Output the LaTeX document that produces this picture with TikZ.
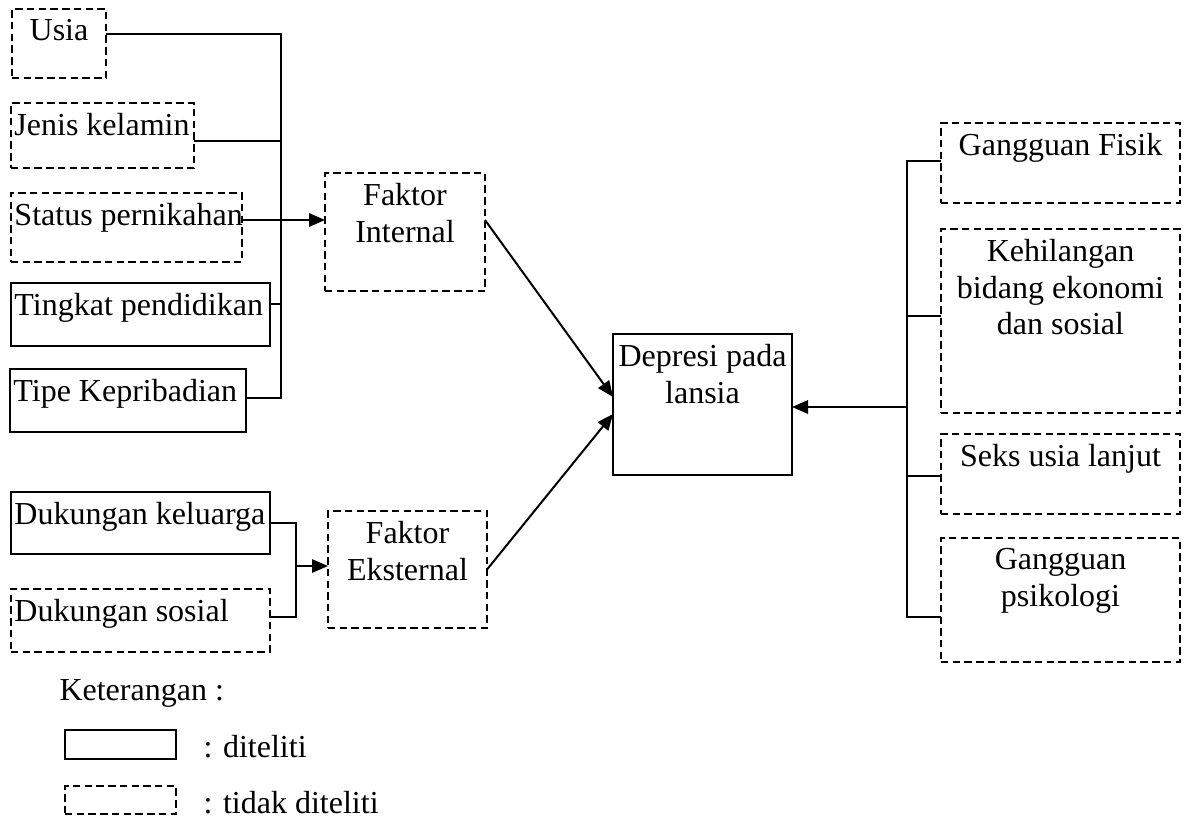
\documentclass[tikz,border=0pt]{standalone}
\usepackage{fontspec}
\setmainfont{Liberation Serif}
\usetikzlibrary{arrows.meta}

\begin{document}
\begin{tikzpicture}[
    x=0.375pt, y=-0.375pt,
    box/.style={draw, line width=0.75pt, inner sep=0pt, outer sep=0pt},
    dbox/.style={box, dash pattern=on 2.8pt off 1.6pt},
    txt/.style={anchor=north, inner sep=0pt, yshift=-3.8pt, align=center, font=\fontsize{12}{13.7}\selectfont},
    txtl/.style={txt, anchor=north west, xshift=1.1pt, align=left},
    plain/.style={inner sep=0pt, anchor=base west, font=\fontsize{12}{13.7}\selectfont},
    ln/.style={line width=0.75pt},
    arr/.style={-{Triangle[length=6pt,width=5pt]}, line width=0.75pt}
    ]
    \useasboundingbox (0,0) rectangle (1187,816);

    % faktor internal
    \node[dbox, minimum width=35.25pt, minimum height=25.875pt, label={[txt]north:Usia}] (usia) at (59,43.5) {};
    \node[dbox, minimum width=68.625pt, minimum height=24.375pt, label={[txtl]north west:Jenis kelamin}] (jenis) at (102.5,135.5) {};
    \node[dbox, minimum width=86.625pt, minimum height=25.875pt, label={[txtl]north west:Status pernikahan}] (status) at (126.5,227.5) {};
    \node[box, minimum width=97.125pt, minimum height=23.625pt, label={[txtl]north west:Tingkat pendidikan}] (tingkat) at (140.5,314.5) {};
    \node[box, minimum width=88.5pt, minimum height=23.625pt, label={[txtl]north west:Tipe Kepribadian}] (tipe) at (128,400.5) {};
    \node[dbox, minimum width=60pt, minimum height=44.25pt, label={[txt]north:Faktor\\Internal}] (internal) at (405,232) {};

    % faktor eksternal
    \node[box, minimum width=97.125pt, minimum height=23.25pt, label={[txtl]north west:Dukungan keluarga}] (keluarga) at (140.5,523) {};
    \node[dbox, minimum width=97.125pt, minimum height=23.625pt, label={[txtl]north west:Dukungan sosial}] (sosial) at (140.5,620.5) {};
    \node[dbox, minimum width=59.625pt, minimum height=43.875pt, label={[txt]north:Faktor\\Eksternal}] (eksternal) at (407.5,569.5) {};

    \node[box, minimum width=67.125pt, minimum height=52.875pt, label={[txt]north:Depresi pada\\lansia}] (depresi) at (702.5,404.5) {};

    % dampak
    \node[dbox, minimum width=89.625pt, minimum height=30pt, label={[txt]north:Gangguan Fisik}] (fisik) at (1060.5,163) {};
    \node[dbox, minimum width=89.625pt, minimum height=69pt, label={[txt]north:Kehilangan\\bidang ekonomi\\dan sosial}] (kehilangan) at (1060.5,321) {};
    \node[dbox, minimum width=89.625pt, minimum height=30pt, label={[txt]north:Seks usia lanjut}] (seks) at (1060.5,474) {};
    \node[dbox, minimum width=89.625pt, minimum height=46.5pt, label={[txt]north:Gangguan\\psikologi}] (psikologi) at (1060.5,600) {};

    % keterangan
    \node[plain] (ket) at (59,700) {Keterangan :};
    \node[box, minimum width=41.625pt, minimum height=10.875pt] (legsolid) at (120.5,744.5) {};
    \node[plain] (legsolidtxt) at (203,757) {: diteliti};
    \node[dbox, minimum width=41.625pt, minimum height=10.5pt] (legdash) at (120.5,800) {};
    \node[plain] (legdashtxt) at (203,813) {: tidak diteliti};

    \coordinate (busItop) at (281,34);
    \coordinate (busIbot) at (281,398);
    \coordinate (busE) at (296,566);
    \coordinate (busDtop) at (907,161);
    \coordinate (busDbot) at (907,617);

    \draw[ln] (usia.east |- busItop) -- (busItop) -- (busIbot) -- (tipe.east |- busIbot);
    \draw[ln] (jenis.east |- 0,141) -- (busItop |- 0,141);
    \draw[ln] (tingkat.east |- 0,304) -- (busItop |- 0,304);
    \draw[arr] (status.east |- 0,220) -- (internal.west |- 0,220);

    \draw[ln] (keluarga.east) -- (busE |- keluarga.east) -- (busE |- 0,617) -- (sosial.east |- 0,617);
    \draw[arr] (busE) -- (eksternal.west |- busE);

    \draw[arr] (internal.east |- 0,220) -- (depresi.west |- 0,397);
    \draw[arr] (eksternal.east) -- (depresi.west |- 0,414);

    \draw[ln] (fisik.west |- busDtop) -- (busDtop) -- (busDbot) -- (psikologi.west |- busDbot);
    \draw[ln] (kehilangan.west |- 0,316) -- (busDtop |- 0,316);
    \draw[ln] (seks.west |- 0,476) -- (busDtop |- 0,476);
    \draw[arr] (busDtop |- 0,407) -- (depresi.east |- 0,407);
  \end{tikzpicture}
\end{document}
